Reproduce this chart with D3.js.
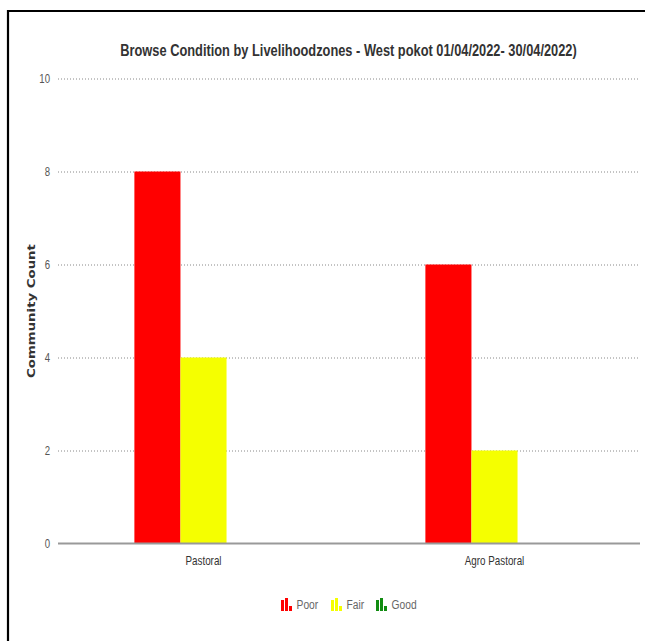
<!DOCTYPE html>
<html>
<head>
<meta charset="utf-8">
<script src="https://cdn.jsdelivr.net/npm/d3@7"></script>
<style>
  html, body { margin: 0; padding: 0; background: #fff; }
  svg { display: block; }
</style>
</head>
<body>
<svg id="chart" width="645" height="641"></svg>
<script>
// Browse condition counts per livelihood zone
const zones = ["Pastoral", "Agro Pastoral"];
const conditions = ["Poor", "Fair", "Good"];
const poorCounts = [8, 6];
const fairCounts = [4, 2];
const goodCounts = [0, 0];
const conditionColors = ["#ff0000", "#f5ff00", "#118c11"];
const yTicks = [0, 2, 4, 6, 8, 10];
const titleText = "Browse Condition by Livelihoodzones - West pokot 01/04/2022- 30/04/2022)";
const yLabel = "Community Count";

const seriesValues = [poorCounts, fairCounts, goodCounts];

const svg = d3.select("#chart");
const W = 645, H = 641;
const margin = { left: 58, right: 5, top: 78.5, bottom: 97.5 };
const FONT = "Liberation Sans, Arial, sans-serif";

// outer frame (left and top edges only)
svg.append("path")
  .attr("d", `M8,641 L8,11 L645,11`)
  .attr("fill", "none")
  .attr("stroke", "#000")
  .attr("stroke-width", 2.2);

const x0 = d3.scaleBand()
  .domain(zones)
  .range([margin.left, W - margin.right])
  .paddingInner(0.525)
  .paddingOuter(0.2625);

const x1 = d3.scaleBand()
  .domain(conditions)
  .range([0, x0.bandwidth()]);

const y = d3.scaleLinear()
  .domain([0, 10])
  .range([H - margin.bottom, margin.top]);

// title, condensed horizontally to a fixed width
const titleG = svg.append("g");
const title = titleG.append("text")
  .attr("x", 0)
  .attr("y", 0)
  .attr("text-anchor", "middle")
  .attr("font-family", FONT)
  .attr("font-weight", "bold")
  .attr("font-size", 16.5)
  .attr("fill", "#333")
  .text(titleText);
const titleW = title.node().getComputedTextLength();
titleG.attr("transform", `translate(348.5,56) scale(${457 / titleW},1)`);

// y gridlines and tick labels
const yAxis = d3.axisLeft(y)
  .tickValues(yTicks)
  .tickSize(-(W - margin.right - margin.left))
  .tickPadding(8)
  .tickFormat(d3.format("d"));

const gy = svg.append("g")
  .attr("transform", `translate(${margin.left},0)`)
  .call(yAxis);
gy.select(".domain").remove();
gy.selectAll(".tick line")
  .attr("stroke", "#888")
  .attr("stroke-width", 1)
  .attr("stroke-dasharray", "1,2")
  .attr("display", d => d === 0 ? "none" : null);
gy.selectAll(".tick text")
  .attr("font-family", FONT)
  .attr("font-size", 12)
  .attr("fill", "#555")
  .attr("transform", "scale(0.8,1)")
  .attr("x", -10);

// y axis title
const yLab = svg.append("g").attr("transform", `translate(35,311) rotate(-90)`);
const yLabText = yLab.append("text")
  .attr("text-anchor", "middle")
  .attr("font-family", "DejaVu Sans, Verdana, sans-serif")
  .attr("font-weight", "bold")
  .attr("font-size", 11)
  .attr("fill", "#333")
  .text(yLabel);
const yLabW = yLabText.node().getComputedTextLength();
yLabText.attr("transform", `scale(${134 / yLabW},1)`);

// bars
const groups = svg.append("g")
  .selectAll("g")
  .data(zones)
  .join("g")
  .attr("transform", d => `translate(${x0(d)},0)`);

groups.selectAll("rect")
  .data((d, i) => conditions.map((c, j) => ({ c, v: seriesValues[j][i], color: conditionColors[j] })))
  .join("rect")
  .attr("x", d => x1(d.c))
  .attr("width", x1.bandwidth())
  .attr("y", d => y(d.v))
  .attr("height", d => y(0) - y(d.v))
  .attr("fill", d => d.color);

// baseline
svg.append("line")
  .attr("x1", margin.left)
  .attr("x2", W - margin.right)
  .attr("y1", y(0))
  .attr("y2", y(0))
  .attr("stroke", "#999")
  .attr("stroke-width", 2);

// x axis labels
const xAxis = d3.axisBottom(x0).tickSize(0).tickPadding(13);
const gx = svg.append("g")
  .attr("transform", `translate(0,${y(0)})`)
  .call(xAxis);
gx.select(".domain").remove();
gx.selectAll(".tick text")
  .attr("font-family", FONT)
  .attr("font-size", 12)
  .attr("fill", "#333")
  .attr("transform", "scale(0.82,1)");

// legend
const legendItems = [
  { label: "Poor", color: conditionColors[0], x: 281 },
  { label: "Fair", color: conditionColors[1], x: 331 },
  { label: "Good", color: conditionColors[2], x: 376 }
];
const iconHeights = [11, 13, 5];
const lg = svg.append("g").selectAll("g")
  .data(legendItems)
  .join("g")
  .attr("transform", d => `translate(${d.x},597)`);
lg.each(function(d) {
  const g = d3.select(this);
  iconHeights.forEach((h, k) => {
    g.append("rect")
      .attr("x", k * 4)
      .attr("y", 14 - h)
      .attr("width", 3)
      .attr("height", h)
      .attr("fill", d.color);
  });
});
lg.append("text")
  .attr("x", 19)
  .attr("y", 12)
  .attr("font-family", FONT)
  .attr("font-size", 12.5)
  .attr("fill", "#666")
  .attr("transform", "scale(0.82,1)")
  .text(d => d.label);
</script>
</body>
</html>
